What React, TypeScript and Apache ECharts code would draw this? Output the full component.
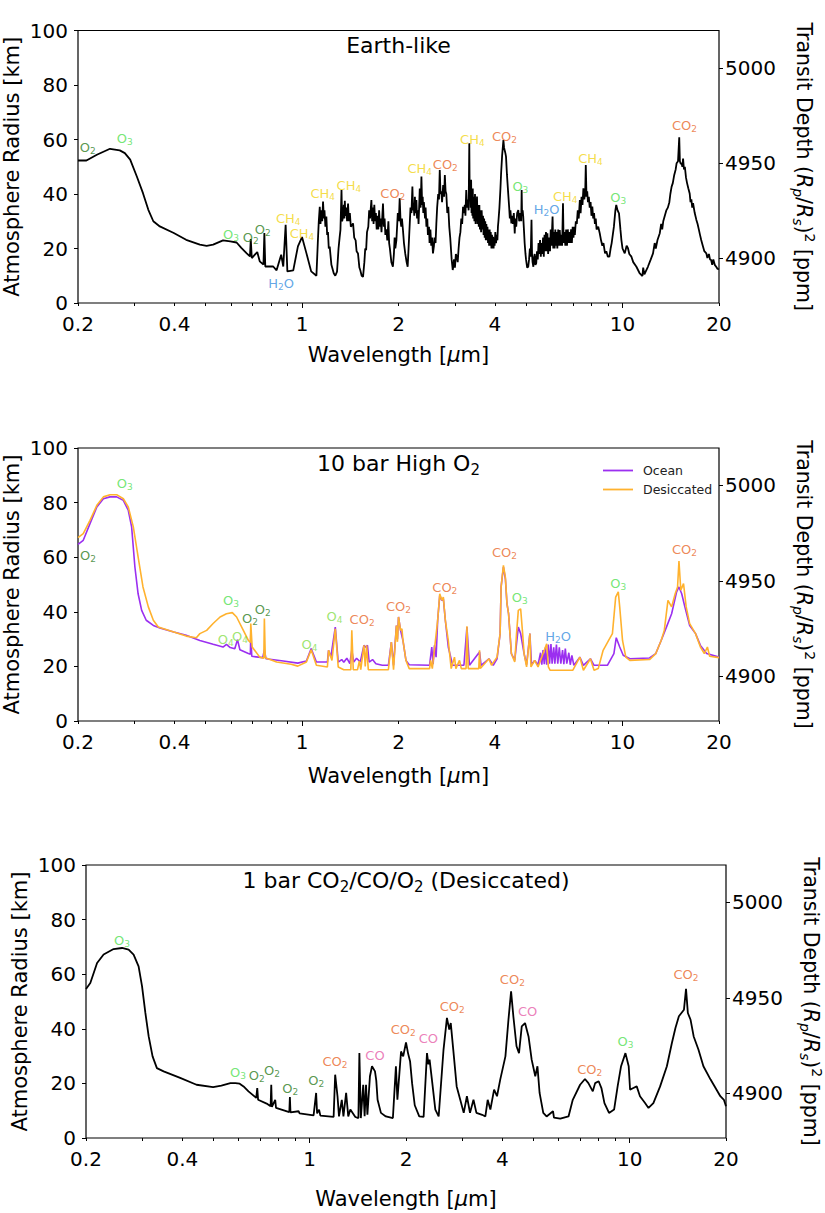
import React, { useEffect, useRef } from 'react';
import * as echarts from 'echarts';

const FONT = 'DejaVu Sans';

// ---- axis values ----
const WL_MIN = 0.2;
const WL_MAX = 20;
const X_LABELS = [0.2, 0.4, 1, 2, 4, 10, 20];
const X_MAJOR_TICKS = [1, 10];
const X_MINOR_TICKS = [0.2, 0.3, 0.4, 0.5, 0.6, 0.7, 0.8, 0.9, 2, 3, 4, 5, 6, 7, 8, 9, 20];
const KM_MIN = 0;
const KM_MAX = 100;
const KM_STEP = 20;
const DEPTH_TICKS = [4900, 4950, 5000];
const DEPTH_MIN = 4876.5;
const DEPTH_MAX = 5019.6;

// ---- spectra: [wavelength um, atmosphere radius km] ----
const EARTH_LIKE: [number, number][] = [
  [0.2, 52.3], [0.2125, 52.3], [0.229, 54.4], [0.2517, 56.6], [0.27, 56.0], [0.28, 55.0], [0.291, 52.6], [0.305, 46.5],
  [0.319, 40.3], [0.3315, 34.2], [0.3436, 30.0], [0.36, 28.1], [0.398, 25.7], [0.435, 23.2], [0.48, 21.4], [0.504, 21.0],
  [0.528, 21.4], [0.567, 23.0], [0.597, 22.6], [0.625, 22.2], [0.6465, 20.2], [0.671, 18.3], [0.688, 17.1], [0.692, 23.5],
  [0.697, 16.5], [0.725, 18.7], [0.738, 15.3], [0.758, 14.1], [0.763, 25.7], [0.768, 13.4], [0.813, 13.4], [0.833, 12.0],
  [0.861, 17.7], [0.874, 13.4], [0.889, 28.7], [0.9, 11.6], [0.939, 12.0], [0.971, 20.8], [1.0, 24.2], [1.032, 18.3],
  [1.068, 11.6], [1.109, 10.0],
  [1.12, 22], [1.128, 30], [1.136, 35.3], [1.142, 29], [1.15, 34], [1.156, 30], [1.163, 37.2], [1.17, 31], [1.175, 34],
  [1.183, 28], [1.191, 31.7], [1.198, 25], [1.205, 26], [1.212, 20], [1.22, 20.7], [1.235, 14], [1.256, 10.9], [1.27, 10],
  [1.286, 11.5], [1.3, 20], [1.31, 24], [1.318, 26.8], [1.328, 41.5], [1.334, 30], [1.344, 31.7], [1.35, 36], [1.356, 31],
  [1.36, 37.5], [1.366, 32], [1.375, 35], [1.382, 30], [1.392, 36.5], [1.4, 30], [1.41, 33], [1.42, 28], [1.443, 29.2],
  [1.455, 24], [1.47, 23], [1.48, 19], [1.495, 18.2], [1.51, 13], [1.52, 12], [1.535, 10], [1.55, 9.6], [1.565, 15],
  [1.575, 20], [1.585, 19.4], [1.595, 26], [1.61, 28], [1.62, 34], [1.63, 31], [1.646, 37.8], [1.655, 30], [1.665, 35],
  [1.672, 29], [1.681, 36.0], [1.69, 30], [1.7, 33], [1.71, 27], [1.72, 32], [1.73, 27], [1.74, 34], [1.75, 28],
  [1.76, 31], [1.77, 26], [1.789, 36.5], [1.8, 28], [1.81, 31], [1.82, 25], [1.834, 27], [1.845, 23], [1.86, 30],
  [1.87, 22], [1.88, 20], [1.9, 15], [1.921, 13.3], [1.935, 18], [1.945, 24], [1.955, 20], [1.97, 23.1], [1.98, 28],
  [1.99, 33], [2.005, 30], [2.017, 38.4], [2.03, 30], [2.04, 28], [2.05, 31], [2.065, 26.8], [2.08, 22], [2.1, 18],
  [2.12, 15], [2.136, 13.3], [2.15, 20], [2.16, 25], [2.17, 30], [2.18, 35], [2.195, 33], [2.21, 42.7], [2.22, 34],
  [2.23, 36], [2.24, 32], [2.25, 39], [2.26, 33], [2.274, 37.8], [2.285, 31], [2.3, 34], [2.31, 29], [2.33, 42],
  [2.345, 35], [2.358, 46.4], [2.37, 36], [2.38, 39], [2.39, 33], [2.4, 37], [2.42, 31], [2.43, 35], [2.444, 28],
  [2.46, 31], [2.47, 25], [2.49, 28], [2.5, 22], [2.515, 27], [2.53, 21], [2.545, 24], [2.562, 18.2], [2.58, 21],
  [2.59, 24], [2.61, 22], [2.625, 29.2], [2.64, 35], [2.66, 40], [2.675, 38], [2.69, 48.8], [2.705, 40], [2.72, 41],
  [2.735, 37], [2.757, 43.3], [2.775, 39], [2.79, 47.0], [2.805, 41], [2.82, 40], [2.84, 33], [2.86, 35.3], [2.88, 28],
  [2.9, 24], [2.93, 16], [2.953, 12.1], [2.97, 14], [2.98, 16], [3.0, 13], [3.02, 18], [3.04, 17.0], [3.06, 15],
  [3.08, 20], [3.1, 24], [3.12, 26], [3.14, 31], [3.16, 29], [3.18, 35.3], [3.2, 33], [3.22, 36], [3.235, 32],
  [3.254, 41.5], [3.27, 35], [3.29, 38], [3.31, 34], [3.326, 58.6], [3.335, 40], [3.345, 44], [3.36, 35], [3.37, 45.2],
  [3.38, 33], [3.39, 40], [3.4, 32], [3.41, 42], [3.42, 31], [3.435, 39], [3.45, 30], [3.465, 40], [3.48, 29],
  [3.49, 37], [3.5, 30], [3.515, 39.1], [3.53, 29], [3.545, 36], [3.56, 28], [3.575, 36], [3.59, 27], [3.605, 34],
  [3.62, 26], [3.635, 34], [3.655, 27], [3.67, 32], [3.685, 25], [3.7, 31], [3.715, 24], [3.73, 30], [3.745, 23],
  [3.76, 29], [3.775, 23], [3.79, 28], [3.805, 22], [3.82, 27], [3.835, 21], [3.85, 27], [3.865, 21], [3.88, 26],
  [3.9, 20], [3.915, 25], [3.93, 20], [3.945, 24.3], [3.96, 20], [3.975, 24], [3.99, 21], [4.01, 26], [4.03, 22],
  [4.05, 25], [4.07, 23], [4.086, 28.0], [4.1, 30], [4.13, 35], [4.16, 42], [4.18, 47.6], [4.21, 54], [4.25, 59.8],
  [4.27, 57], [4.29, 57], [4.31, 55], [4.33, 53.7], [4.36, 47], [4.4, 40], [4.43, 35], [4.45, 31], [4.47, 34],
  [4.5, 29.2], [4.52, 32], [4.55, 29], [4.58, 33], [4.61, 25.5], [4.63, 31], [4.66, 28], [4.69, 33], [4.73, 34.1],
  [4.76, 30], [4.8, 33], [4.83, 30], [4.845, 41.5], [4.86, 32], [4.88, 34], [4.9, 31.7], [4.93, 26], [4.95, 22],
  [4.98, 18], [5.0, 16], [5.04, 13], [5.08, 13.3], [5.11, 16], [5.14, 20], [5.17, 17], [5.2, 30.5], [5.22, 18],
  [5.24, 15], [5.27, 13.3], [5.3, 17], [5.32, 18], [5.35, 14], [5.38, 14.6], [5.41, 19], [5.44, 16], [5.47, 22],
  [5.5, 18], [5.53, 23.1], [5.56, 17], [5.59, 22], [5.62, 18], [5.65, 24], [5.68, 17], [5.71, 25], [5.74, 19],
  [5.77, 26], [5.8, 19], [5.83, 25.6], [5.86, 18], [5.9, 24], [5.94, 19], [5.97, 27], [6.0, 21], [6.05, 31.7],
  [6.08, 20], [6.11, 26], [6.14, 20], [6.17, 27], [6.2, 21], [6.23, 26], [6.26, 20], [6.3, 27], [6.33, 21],
  [6.37, 26.8], [6.41, 21], [6.45, 25], [6.48, 21], [6.52, 36.6], [6.55, 22], [6.59, 26], [6.63, 21], [6.67, 27],
  [6.71, 21], [6.75, 27], [6.79, 22], [6.83, 26], [6.87, 22], [6.91, 27], [6.95, 22], [6.99, 28], [7.03, 24],
  [7.07, 28], [7.1, 25], [7.15, 30], [7.2, 29], [7.25, 34], [7.3, 31], [7.36, 37.8], [7.4, 33], [7.45, 39], [7.5, 36],
  [7.55, 42.1], [7.6, 38], [7.65, 41], [7.68, 50.6], [7.72, 39], [7.76, 41], [7.8, 37], [7.85, 39], [7.9, 35],
  [7.95, 37], [8.0, 32], [8.05, 35.4], [8.1, 31], [8.15, 33], [8.2, 29], [8.25, 31], [8.3, 27], [8.4, 28],
  [8.49, 25.6], [8.57, 23], [8.65, 21], [8.72, 22], [8.82, 18.2], [8.9, 19], [9.0, 17], [9.1, 17.0], [9.18, 20],
  [9.25, 22], [9.4, 28.0], [9.5, 34], [9.56, 36.0], [9.65, 34], [9.75, 32.9], [9.85, 27], [9.92, 23.1], [10.0, 20],
  [10.16, 18.2], [10.3, 21], [10.4, 20.1], [10.5, 18], [10.66, 17.0], [10.8, 15], [11.05, 13.3], [11.3, 11],
  [11.54, 9.9], [11.6, 13], [11.7, 10.5], [12.0, 13.3], [12.25, 16], [12.45, 18.2], [12.6, 22], [12.7, 20],
  [12.85, 23], [13.07, 25.6], [13.2, 29], [13.3, 27], [13.4, 30], [13.55, 32], [13.71, 34.1], [13.85, 35], [14.0, 37],
  [14.1, 40], [14.23, 42.7], [14.35, 44], [14.5, 47], [14.65, 49], [14.75, 51.3], [14.9, 52], [15.03, 60.8],
  [15.1, 52], [15.2, 51], [15.29, 51.3], [15.37, 50], [15.45, 53], [15.55, 49], [15.65, 50.0], [15.78, 46],
  [15.9, 44], [16.05, 42], [16.2, 40.2], [16.3, 37], [16.4, 38], [16.5, 35], [16.6, 36.6], [16.8, 33], [17.0, 30.5],
  [17.15, 29], [17.3, 27], [17.45, 25], [17.6, 23.1], [17.8, 21], [18.0, 19], [18.26, 18.2], [18.4, 16.5], [18.6, 18],
  [18.75, 16], [18.9, 15.8], [19.05, 14], [19.2, 16], [19.4, 14], [19.6, 13.3], [19.8, 12.5], [20, 12.4],
];

const HIGH_O2_OCEAN: [number, number][] = [
  [0.2, 64.7], [0.2077, 66.2], [0.218, 72.3], [0.229, 78.4], [0.24, 81.4], [0.2517, 82.1], [0.264, 82.1], [0.277, 80.8],
  [0.287, 77.2], [0.294, 71.1], [0.301, 56.4], [0.308, 46.6], [0.316, 40.5], [0.3265, 36.9], [0.3436, 35.0], [0.36, 34.1],
  [0.398, 32.6], [0.435, 31.4], [0.48, 29.5], [0.528, 28.1], [0.567, 27.1], [0.581, 28.1], [0.597, 26.9], [0.617, 26.5],
  [0.629, 29.8], [0.64, 26.1], [0.68, 24.7], [0.69, 24.5], [0.692, 32.0], [0.697, 23.7], [0.754, 23.2], [0.763, 26],
  [0.772, 22.8], [0.874, 22.0], [0.97, 21.2], [1.032, 22], [1.068, 26.5], [1.109, 21.6], [1.2, 21.6], [1.21, 25.9],
  [1.23, 23.4], [1.27, 34.4], [1.297, 21.6], [1.33, 22.5], [1.35, 21.5], [1.38, 23], [1.41, 21], [1.43, 26], [1.45, 21.6],
  [1.48, 23], [1.52, 21.6], [1.56, 27.7], [1.58, 27], [1.6, 27.7], [1.62, 21.6], [1.66, 22.5], [1.7, 21], [1.78, 20.4],
  [1.86, 20.4], [1.9, 28.9], [1.93, 20.4], [1.97, 35.0], [1.985, 30], [2.0, 38.1], [2.03, 33.2], [2.065, 29.5],
  [2.11, 22.2], [2.16, 20.6], [2.5, 20.4], [2.54, 27.1], [2.565, 20.8], [2.59, 27.7], [2.62, 23.4], [2.65, 36.9],
  [2.69, 46.0], [2.73, 44.2], [2.76, 44.8], [2.8, 36.9], [2.86, 27.1], [2.95, 20.4], [3.2, 20.4], [3.27, 34.4],
  [3.33, 20.4], [3.58, 25.3], [3.62, 20.4], [3.83, 22.8], [3.95, 20.4], [4.06, 22.8], [4.15, 32.0], [4.18, 49.1],
  [4.25, 56.4], [4.31, 52.1], [4.36, 43.0], [4.41, 39.3], [4.5, 24.7], [4.61, 22.2], [4.73, 34.4], [4.81, 32.0],
  [4.93, 24.7], [5.02, 20.6], [5.14, 32.0], [5.2, 20.6], [5.32, 22.2], [5.45, 20.6], [5.55, 25], [5.6, 20.6], [5.65, 26],
  [5.7, 20.8], [5.75, 27], [5.8, 20.6], [5.87, 28], [5.92, 21], [5.98, 28.2], [6.03, 21], [6.1, 27], [6.15, 21],
  [6.22, 28], [6.28, 21], [6.35, 27], [6.42, 21], [6.5, 26], [6.56, 20.8], [6.63, 26.5], [6.7, 21], [6.8, 25],
  [6.87, 20.6], [6.95, 24], [7.05, 20.4], [7.36, 23.4], [7.55, 20.4], [7.94, 22.8], [8.15, 20.4], [8.97, 20.4],
  [9.4, 24.7], [9.56, 30.5], [9.8, 27.1], [10.05, 24.1], [10.54, 22.8], [12.14, 23.1], [12.7, 24.7], [13.2, 29.5],
  [13.71, 34.4], [14.23, 39.3], [14.75, 47.3], [15.0, 49.1], [15.3, 46.6], [15.65, 41.8], [16.2, 35.0], [16.9, 32.0],
  [17.5, 27.7], [18.3, 24.7], [20, 23.4],
];

const HIGH_O2_DESICCATED: [number, number][] = [
  [0.2, 67.2], [0.2077, 68.6], [0.218, 73.5], [0.229, 79.0], [0.24, 82.1], [0.2517, 82.9], [0.264, 82.9], [0.277, 81.4],
  [0.287, 78.4], [0.2976, 71.1], [0.308, 60.1], [0.319, 49.1], [0.3315, 41.8], [0.3436, 36.9], [0.356, 34.4],
  [0.398, 32.6], [0.435, 31.1], [0.468, 30.5], [0.48, 32.0], [0.504, 33.2], [0.528, 35.7], [0.555, 38.1], [0.581, 39.3],
  [0.606, 39.7], [0.625, 38.1], [0.656, 33.2], [0.68, 29.5], [0.69, 28.8], [0.692, 35.7], [0.699, 27.1], [0.738, 23.4],
  [0.76, 23], [0.763, 37.5], [0.768, 23.2], [0.833, 21.6], [0.925, 20.8], [0.97, 20.1], [1.032, 21.6], [1.068, 26.1],
  [1.109, 20.4], [1.2, 19.8], [1.21, 25.9], [1.24, 22.2], [1.27, 33.8], [1.297, 19.8], [1.35, 18.8], [1.42, 18.8],
  [1.43, 33.2], [1.445, 18.8], [1.49, 18.8], [1.51, 22], [1.525, 18.8], [1.56, 27.7], [1.575, 20], [1.59, 27.7],
  [1.61, 18.8], [1.86, 18.8], [1.9, 28.9], [1.93, 18.8], [1.97, 35.0], [1.985, 29], [2.0, 38.1], [2.03, 33.2],
  [2.05, 33.8], [2.065, 29.5], [2.11, 22.2], [2.16, 19.2], [2.5, 19.2], [2.52, 22.2], [2.55, 19.2], [2.65, 36.9],
  [2.69, 46.6], [2.73, 44.2], [2.76, 45.4], [2.8, 36.9], [2.86, 29.5], [2.92, 19.2], [2.99, 23.4], [3.02, 19.2],
  [3.1, 22.2], [3.14, 19.2], [3.25, 19.2], [3.27, 34.7], [3.3, 19.2], [3.56, 19.2], [3.58, 25.9], [3.6, 19.2],
  [3.83, 22.8], [3.9, 20.4], [4.06, 23.4], [4.15, 32.0], [4.18, 49.1], [4.25, 57.0], [4.31, 52.7], [4.36, 43.0],
  [4.41, 39.3], [4.5, 24.7], [4.61, 21.6], [4.67, 32.0], [4.73, 40.5], [4.81, 41.1], [4.88, 32.0], [4.93, 24.7],
  [5.02, 19.8], [5.14, 32.0], [5.18, 19.8], [5.32, 22.2], [5.45, 19.8], [5.8, 28.3], [5.87, 19.8], [5.94, 18.6],
  [7.0, 18.6], [7.36, 23.4], [7.55, 18.6], [7.94, 22.8], [8.15, 18.6], [8.4, 19.2], [8.7, 25.9], [9.05, 29.5],
  [9.3, 32.0], [9.52, 45.4], [9.7, 47.3], [9.8, 41.8], [10.0, 29.5], [10.24, 23.4], [10.54, 22.2], [12.14, 22.5],
  [12.7, 24.7], [13.2, 29.5], [13.5, 33.2], [13.86, 44.2], [14.23, 41.8], [14.6, 46.6], [14.85, 49.1], [15.0, 58.6],
  [15.2, 47.9], [15.5, 50.3], [15.8, 41.8], [16.2, 35.7], [16.9, 32.0], [17.5, 27.1], [18.0, 24.7], [18.4, 27.1],
  [18.7, 23.7], [20, 23.2],
];

const CO2_CO_O2_DESICCATED: [number, number][] = [
  [0.2, 54.6], [0.2063, 56.8], [0.2166, 64.1], [0.227, 67.2], [0.2439, 69.2], [0.2592, 69.6], [0.2718, 69.0],
  [0.2817, 67.2], [0.292, 62.9], [0.2993, 55.6], [0.3066, 45.8], [0.314, 37.2], [0.3229, 29.9], [0.3331, 25.6],
  [0.3496, 24.4], [0.3938, 22.0], [0.443, 19.5], [0.4992, 18.6], [0.5297, 19.2], [0.5652, 20.1], [0.5856, 20.1],
  [0.6043, 19.9], [0.6214, 18.9], [0.6438, 17.1], [0.6808, 14.7], [0.6858, 18.3], [0.69, 14.0], [0.7337, 12.6],
  [0.755, 11.6], [0.7585, 19.5], [0.762, 11.4], [0.7804, 14.0], [0.785, 11.0], [0.8637, 9.5], [0.8673, 15.0],
  [0.871, 9.4], [0.9233, 9.8], [0.93, 9.0], [1.0286, 8.3], [1.0476, 16.5], [1.055, 9.0], [1.07, 10.4], [1.08, 8.2],
  [1.188, 7.7], [1.2014, 23.2], [1.2218, 15.3], [1.235, 7.9], [1.26, 14.0], [1.275, 7.9], [1.3, 16.5], [1.32, 7.9],
  [1.34, 10.4], [1.389, 7.7], [1.42, 7.3], [1.43, 31.1], [1.445, 7.3], [1.47, 19.5], [1.485, 8], [1.5, 19.5],
  [1.515, 8.5], [1.543, 22.6], [1.566, 26.3], [1.6, 24.4], [1.615, 21], [1.63, 14.0], [1.67, 9.2], [1.73, 7.9],
  [1.82, 7.3], [1.86, 26.3], [1.88, 14.0], [1.93, 31.7], [1.96, 29.9], [2.0, 35.0], [2.03, 31.0], [2.06, 28.0],
  [2.09, 20.0], [2.13, 12.0], [2.2, 7.9], [2.27, 7.7], [2.326, 31.1], [2.35, 27], [2.37, 28.7], [2.41, 21.4],
  [2.47, 10.4], [2.53, 7.9], [2.62, 32.4], [2.685, 44.0], [2.73, 39.7], [2.76, 42.1], [2.81, 32.4], [2.88, 18.9],
  [2.955, 14.0], [3.03, 9.2], [3.1, 15.3], [3.17, 9.2], [3.25, 14.0], [3.32, 9.2], [3.46, 8.5], [3.54, 7.9],
  [3.6, 14.0], [3.67, 10.4], [3.77, 17.7], [3.85, 15.3], [3.94, 21.4], [4.09, 29.9], [4.18, 43.3], [4.26, 53.7],
  [4.33, 44.6], [4.43, 33.6], [4.51, 31.1], [4.6, 40.9], [4.71, 42.1], [4.83, 37.2], [4.94, 28.7], [5.07, 22.6],
  [5.15, 26.3], [5.23, 16.5], [5.37, 9.2], [5.5, 7.9], [5.76, 9.8], [5.8, 7.5], [6.07, 7.1], [6.44, 7.9], [6.64, 14.0],
  [7.0, 19.5], [7.25, 21.6], [7.43, 20.1], [7.67, 17.1], [7.8, 20.1], [8.0, 20.8], [8.16, 18.3], [8.34, 12.8],
  [8.62, 9.2], [8.94, 10.4], [9.17, 18.9], [9.4, 26.3], [9.7, 31.1], [9.93, 26.3], [10.03, 17.7], [10.27, 18.3],
  [10.52, 18.9], [10.77, 15.3], [11.17, 12.8], [11.45, 11.0], [11.86, 12.8], [12.45, 18.9], [13.07, 26.3],
  [13.55, 34.8], [13.9, 40.3], [14.25, 44.6], [14.78, 47.0], [15.0, 54.6], [15.2, 45.8], [15.5, 43.3], [15.85, 37.2],
  [16.4, 32.4], [17.0, 26.3], [17.9, 21.4], [18.55, 18.3], [19.2, 15.3], [19.7, 14.0], [20, 11.6],
];

// ---- molecule annotations: [molecule, wavelength um, km] ----
const EARTH_LABELS: [string, number, number][] = [
  ['O2', 0.2146, 57.2], ['O3', 0.28, 60.2], ['O3', 0.6, 25.0], ['O2', 0.692, 24.0], ['O2', 0.754, 27.0],
  ['CH4', 0.906, 31.1], ['CH4', 1.0, 25.6], ['H2O', 0.861, 7.2], ['CH4', 1.16, 40.3], ['CH4', 1.4, 43.0],
  ['CO2', 1.92, 40.3], ['CH4', 2.33, 49.4], ['CO2', 2.8, 51.0], ['CH4', 3.4, 60.1], ['CO2', 4.28, 61.0],
  ['O3', 4.8, 42.7], ['H2O', 5.8, 34.4], ['CH4', 6.63, 39.0], ['CH4', 7.94, 53.0], ['O3', 9.7, 38.8], ['CO2', 15.6, 65.0],
];
const HIGH_O2_LABELS: [string, number, number][] = [
  ['O3', 0.28, 86.9], ['O2', 0.2148, 60.7], ['O3', 0.6, 44.2], ['O2', 0.688, 37.5], ['O2', 0.754, 40.8],
  ['O4', 0.578, 29.8], ['O4', 0.64, 31.1], ['O4', 1.055, 28.0], ['O4', 1.263, 38.1], ['CO2', 1.54, 37.1],
  ['CO2', 2.0, 42.0], ['CO2', 2.79, 48.8], ['CO2', 4.28, 61.9], ['O3', 4.78, 45.2], ['H2O', 6.3, 31.1],
  ['O3', 9.7, 50.3], ['CO2', 15.6, 62.9],
];
const CO2_LABELS: [string, number, number][] = [
  ['O3', 0.259, 72.4], ['O3', 0.597, 24.1], ['O2', 0.683, 23.0], ['O2', 0.762, 24.9], ['O2', 0.87, 18.2],
  ['O2', 1.048, 21.0], ['CO2', 1.2, 28.1], ['CO', 1.6, 30.2], ['CO2', 1.96, 39.9], ['CO', 2.35, 36.3],
  ['CO2', 2.79, 48.0], ['CO2', 4.3, 58.0], ['CO', 4.8, 46.2], ['CO2', 7.5, 25.0], ['O3', 9.7, 35.4], ['CO2', 15.0, 59.8],
];

const MOL_TEXT: Record<string, string> = {
  O2: 'O{s|2}', O3: 'O{s|3}', O4: 'O{s|4}', CH4: 'CH{s|4}', CO2: 'CO{s|2}', H2O: 'H{s|2}O', CO: 'CO',
};
const MOL_COLOR: Record<string, string> = {
  O2: '#2e7d1e', O3: '#52e052', O4: '#86de4c', CH4: '#f2d419', CO2: '#e9692c', H2O: '#3a8fe0', CO: '#e65ea8',
};

const OCEAN_COLOR = '#9b2ff0';
const DESICCATED_COLOR = '#ffb22e';

const PANELS = [
  { left: 78, top: 30.5, width: 641, height: 272.5, title: 'Earth-like', xNameGap: 41 },
  { left: 78, top: 448, width: 641, height: 273, title: '10 bar High O{s|2}', xNameGap: 44 },
  { left: 86, top: 865, width: 640, height: 273, title: '1 bar CO{s|2}/CO/O{s|2} (Desiccated)', xNameGap: 50 },
];

const lg = (v: number) => Math.log10(v);
const toXY = (pts: [number, number][]) => pts.map(([wl, km]) => [lg(wl), km]);

function labelText(v: number) {
  const m = X_LABELS.find((l) => Math.abs(lg(l) - v) < 1e-6);
  return m !== undefined ? String(m) : '';
}

function buildOption() {
  const grid: any[] = [];
  const xAxis: any[] = [];
  const yAxis: any[] = [];
  const graphic: any[] = [];
  PANELS.forEach((p, i) => {
    grid.push({
      left: p.left, top: p.top, width: p.width, height: p.height, show: true, borderColor: '#000', borderWidth: 1.2,
      backgroundColor: 'transparent', containLabel: false, outerBoundsMode: 'none',
    });
    xAxis.push({
      type: 'value', gridIndex: i, min: lg(WL_MIN), max: lg(WL_MAX), position: 'bottom',
      axisLine: { show: false, onZero: false }, splitLine: { show: false },
      axisTick: { show: true, customValues: X_MAJOR_TICKS.map(lg), length: 5, lineStyle: { color: '#000', width: 1 } },
      axisLabel: { customValues: X_LABELS.map(lg), formatter: (v: number) => labelText(v), fontSize: 20, fontFamily: FONT, color: '#000', margin: 11 },
      name: 'Wavelength [{mu|μ}m]', nameLocation: 'middle', nameGap: p.xNameGap,
      nameTextStyle: { fontSize: 21, fontFamily: FONT, color: '#000', rich: { mu: { fontSize: 21, fontFamily: FONT, fontStyle: 'italic', color: '#000' } } },
    });
    xAxis.push({
      type: 'value', gridIndex: i, min: lg(WL_MIN), max: lg(WL_MAX), position: 'bottom',
      axisLine: { show: false, onZero: false }, splitLine: { show: false },
      axisTick: { show: true, customValues: X_MINOR_TICKS.map(lg), length: 3, lineStyle: { color: '#000', width: 1 } },
      axisLabel: { show: false },
    });
    yAxis.push({
      type: 'value', gridIndex: i, min: KM_MIN, max: KM_MAX, interval: KM_STEP, position: 'left',
      axisLine: { show: false, onZero: false }, splitLine: { show: false },
      axisTick: { show: true, length: 4, lineStyle: { color: '#000' } },
      axisLabel: { fontSize: 20, fontFamily: FONT, color: '#000', margin: 10 },
      name: 'Atmosphere Radius [km]', nameLocation: 'middle', nameGap: 54, nameMoveOverlap: false,
      nameTextStyle: { fontSize: 21, fontFamily: FONT, color: '#000', lineHeight: 24 },
    });
    yAxis.push({
      type: 'value', gridIndex: i, min: DEPTH_MIN, max: DEPTH_MAX, position: 'right',
      axisLine: { show: false, onZero: false }, splitLine: { show: false },
      axisTick: { show: true, length: 4, customValues: DEPTH_TICKS, lineStyle: { color: '#000' } },
      axisLabel: { customValues: DEPTH_TICKS, formatter: (v: number) => String(Math.round(v)), fontSize: 20, fontFamily: FONT, color: '#000', margin: 6 },
      name: '{n|Transit Depth (}{i|R}{is|p}{n|/}{i|R}{is|s}{n|)}{sup|2}{n| [ppm]}',
      nameLocation: 'middle', nameGap: 72, nameRotate: -90, nameMoveOverlap: false,
      nameTextStyle: {
        fontSize: 20.5, fontFamily: FONT, color: '#000', lineHeight: 26,
        rich: {
          n: { fontSize: 20.5, fontFamily: FONT, color: '#000', lineHeight: 26 },
          i: { fontSize: 20.5, fontFamily: FONT, color: '#000', fontStyle: 'italic', lineHeight: 26 },
          is: { fontSize: 14, fontFamily: FONT, color: '#000', fontStyle: 'italic', lineHeight: 14, verticalAlign: 'bottom' },
          sup: { fontSize: 14, fontFamily: FONT, color: '#000', lineHeight: 14, verticalAlign: 'top' },
        },
      },
    });
    graphic.push({
      type: 'text', x: p.left + p.width / 2, y: p.top + 1, z: 10,
      style: {
        text: p.title, align: 'center', verticalAlign: 'top', fontSize: 22, fontFamily: FONT, fill: '#000', lineHeight: 28,
        rich: { s: { fontSize: 15, fontFamily: FONT, fill: '#000', lineHeight: 15, verticalAlign: 'bottom' } },
      },
    });
  });

  const lineSeries = (name: string, pts: [number, number][], gi: number, color: string, width: number) => ({
    type: 'line', name, xAxisIndex: gi * 2, yAxisIndex: gi * 2, data: toXY(pts),
    symbol: 'none', showSymbol: false, lineStyle: { color, width }, itemStyle: { color }, z: 3, silent: true,
  });
  const labelSeries = (list: [string, number, number][], gi: number) => ({
    type: 'scatter', xAxisIndex: gi * 2, yAxisIndex: gi * 2, symbolSize: 1, silent: true, z: 6,
    itemStyle: { color: 'rgba(0,0,0,0)' },
    label: { show: true, position: 'inside', fontSize: 13, fontFamily: FONT, lineHeight: 16 },
    data: list.map(([m, wl, km]) => ({
      value: [lg(wl), km],
      label: {
        color: MOL_COLOR[m], formatter: MOL_TEXT[m],
        rich: { s: { fontSize: 9, fontFamily: FONT, color: MOL_COLOR[m], lineHeight: 9, verticalAlign: 'bottom' } },
      },
    })),
  });

  return {
    animation: false,
    backgroundColor: '#fff',
    grid, xAxis, yAxis, graphic,
    legend: {
      data: [
        { name: 'Ocean', icon: 'rect', itemStyle: { color: OCEAN_COLOR } },
        { name: 'Desiccated', icon: 'rect', itemStyle: { color: DESICCATED_COLOR } },
      ],
      orient: 'vertical', left: 598, top: 458, itemWidth: 30, itemHeight: 1.8, itemGap: 4,
      textStyle: { fontSize: 12.5, fontFamily: FONT, color: '#222', padding: [0, 0, 0, 5], lineHeight: 15 },
    },
    series: [
      lineSeries('Earth-like', EARTH_LIKE, 0, '#000', 1.8),
      labelSeries(EARTH_LABELS, 0),
      lineSeries('Ocean', HIGH_O2_OCEAN, 1, OCEAN_COLOR, 1.6),
      lineSeries('Desiccated', HIGH_O2_DESICCATED, 1, DESICCATED_COLOR, 1.6),
      labelSeries(HIGH_O2_LABELS, 1),
      lineSeries('CO2/CO/O2', CO2_CO_O2_DESICCATED, 2, '#000', 1.8),
      labelSeries(CO2_LABELS, 2),
    ],
  };
}

export default function App() {
  const ref = useRef<HTMLDivElement>(null);
  useEffect(() => {
    if (!ref.current) return;
    const chart = echarts.init(ref.current, undefined, { renderer: 'svg' });
    chart.setOption(buildOption() as any);
    return () => chart.dispose();
  }, []);
  return <div ref={ref} style={{ position: 'absolute', left: 0, top: 0, width: 825, height: 1213, background: '#fff' }} />;
}
